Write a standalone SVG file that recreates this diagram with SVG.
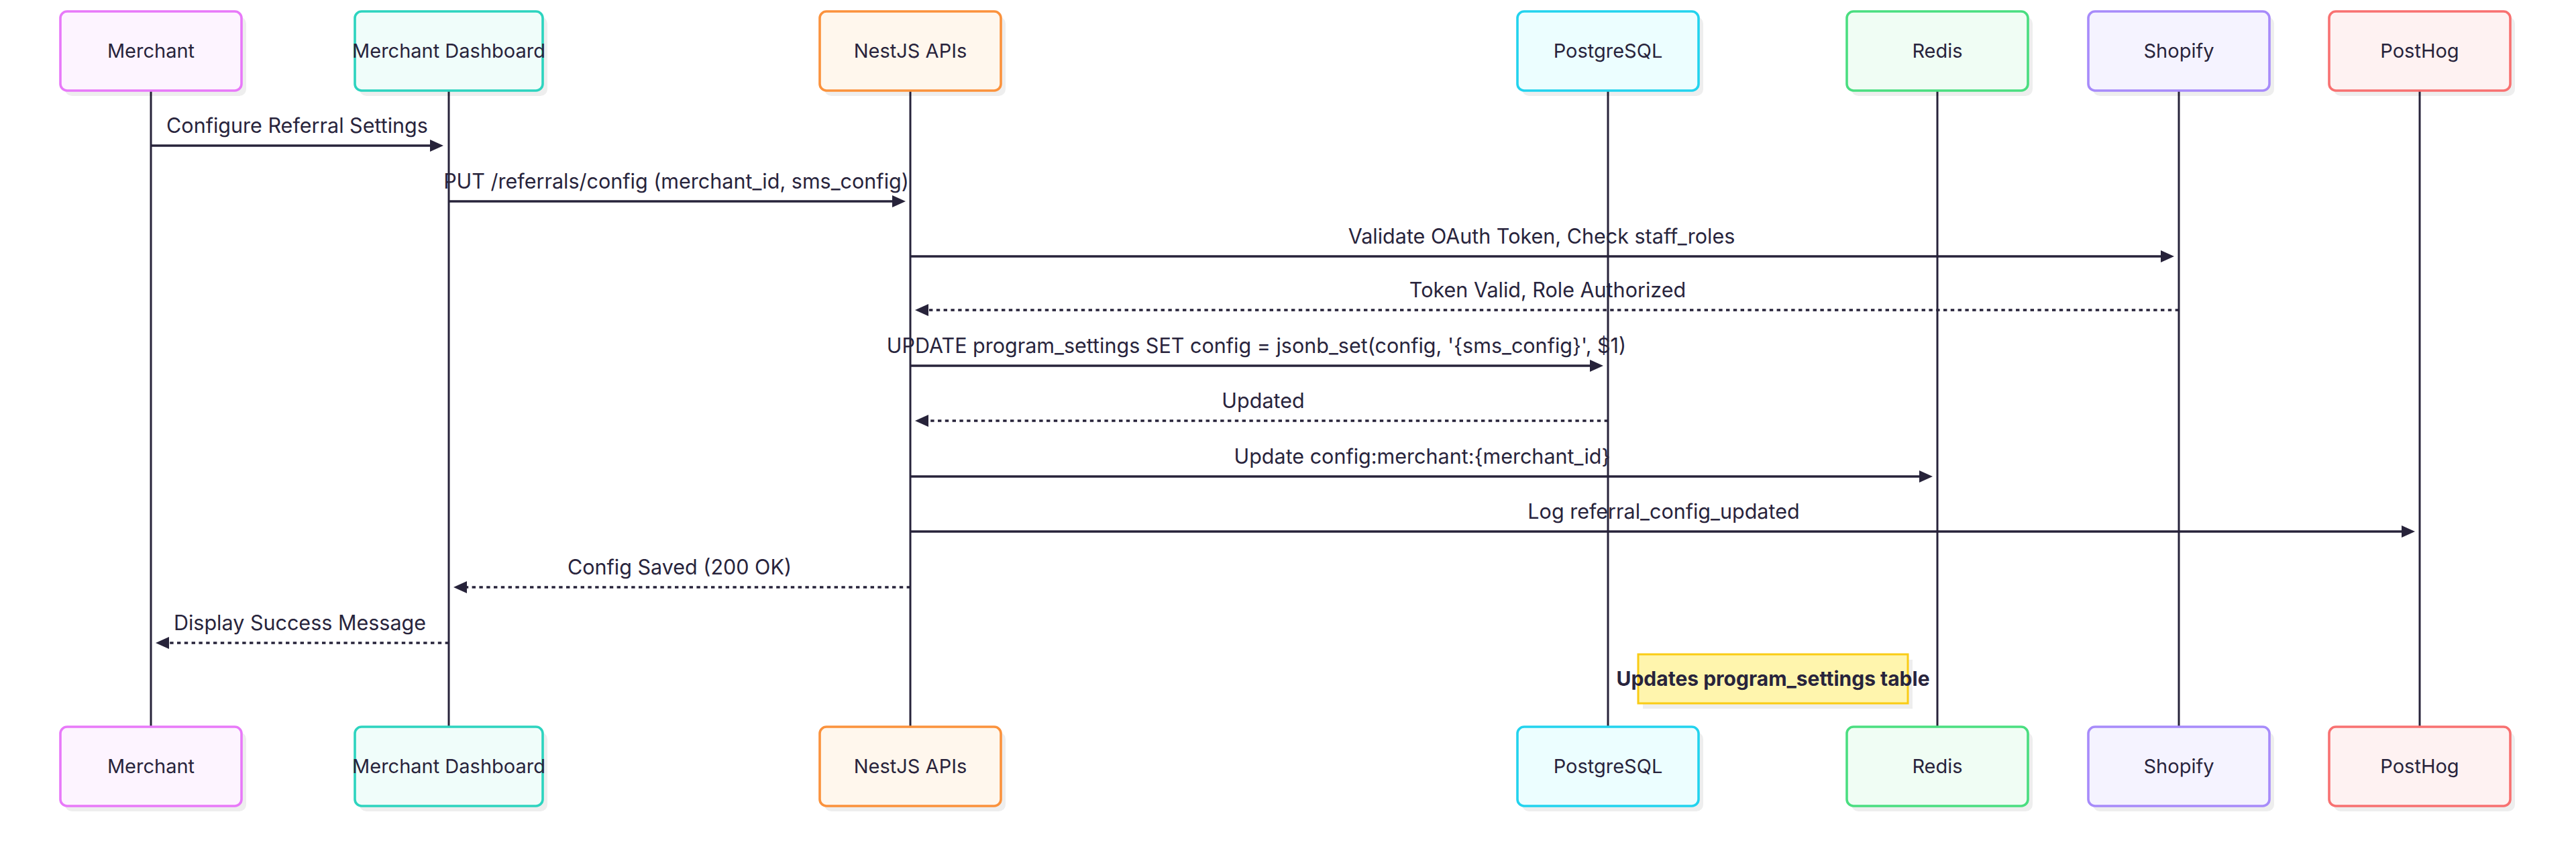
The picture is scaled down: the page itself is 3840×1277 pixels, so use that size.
<svg xmlns="http://www.w3.org/2000/svg" width="3840" height="1277" viewBox="0 0 3840 1277">
<defs>
<marker id="ah" viewBox="0 0 20 18" refX="12" refY="9" markerWidth="20" markerHeight="18" markerUnits="userSpaceOnUse" orient="auto">
<path d="M0,0 L20,9 L0,18 Z" fill="#27233a"/>
</marker>
</defs>
<style>
.bg{fill:#ffffff}
.sh{fill:#000000;fill-opacity:0.065}
.box{stroke-width:3.6}
.t{font-family:Inter,"Liberation Sans",sans-serif;font-size:29px;fill:#28243c;text-anchor:middle}
.m{font-family:Inter,"Liberation Sans",sans-serif;font-size:30.5px;fill:#28243c;text-anchor:middle}
.life{stroke:#27233a;stroke-width:3}
.msg{stroke:#27233a;stroke-width:3.6;fill:none;marker-end:url(#ah)}
.dash{stroke-dasharray:5.4 5.4}
.note{fill:#fff5ad;stroke:#facc15;stroke-width:3}
.nt{font-family:Inter,"Liberation Sans",sans-serif;font-size:30px;font-weight:bold;fill:#28243c;text-anchor:middle}
</style>
<rect class="bg" x="0" y="0" width="3840" height="1277"/>

<g id="lifelines">
<line class="life" x1="225" y1="135" x2="225" y2="1083"/>
<line class="life" x1="669" y1="135" x2="669" y2="1083"/>
<line class="life" x1="1357" y1="135" x2="1357" y2="1083"/>
<line class="life" x1="2397" y1="135" x2="2397" y2="1083"/>
<line class="life" x1="2888" y1="135" x2="2888" y2="1083"/>
<line class="life" x1="3248" y1="135" x2="3248" y2="1083"/>
<line class="life" x1="3607" y1="135" x2="3607" y2="1083"/>
</g>

<g id="merchant">
<rect class="sh" x="97" y="25" width="270" height="118" rx="10"/>
<rect class="box" x="90" y="17" width="270" height="118" rx="10" fill="#fdf4ff" stroke="#e879f9"/>
<text class="t" x="225" y="86">Merchant</text>
<rect class="sh" x="97" y="1091" width="270" height="118" rx="10"/>
<rect class="box" x="90" y="1083" width="270" height="118" rx="10" fill="#fdf4ff" stroke="#e879f9"/>
<text class="t" x="225" y="1152">Merchant</text>
</g>

<g id="dashboard">
<rect class="sh" x="536" y="25" width="280" height="118" rx="10"/>
<rect class="box" x="529" y="17" width="280" height="118" rx="10" fill="#f0fdfa" stroke="#2dd4bf"/>
<text class="t" x="669" y="86">Merchant Dashboard</text>
<rect class="sh" x="536" y="1091" width="280" height="118" rx="10"/>
<rect class="box" x="529" y="1083" width="280" height="118" rx="10" fill="#f0fdfa" stroke="#2dd4bf"/>
<text class="t" x="669" y="1152">Merchant Dashboard</text>
</g>

<g id="nestjs">
<rect class="sh" x="1229" y="25" width="270" height="118" rx="10"/>
<rect class="box" x="1222" y="17" width="270" height="118" rx="10" fill="#fff7ed" stroke="#fb923c"/>
<text class="t" x="1357" y="86">NestJS APIs</text>
<rect class="sh" x="1229" y="1091" width="270" height="118" rx="10"/>
<rect class="box" x="1222" y="1083" width="270" height="118" rx="10" fill="#fff7ed" stroke="#fb923c"/>
<text class="t" x="1357" y="1152">NestJS APIs</text>
</g>

<g id="postgresql">
<rect class="sh" x="2269" y="25" width="270" height="118" rx="10"/>
<rect class="box" x="2262" y="17" width="270" height="118" rx="10" fill="#ecfeff" stroke="#22d3ee"/>
<text class="t" x="2397" y="86">PostgreSQL</text>
<rect class="sh" x="2269" y="1091" width="270" height="118" rx="10"/>
<rect class="box" x="2262" y="1083" width="270" height="118" rx="10" fill="#ecfeff" stroke="#22d3ee"/>
<text class="t" x="2397" y="1152">PostgreSQL</text>
</g>

<g id="redis">
<rect class="sh" x="2760" y="25" width="270" height="118" rx="10"/>
<rect class="box" x="2753" y="17" width="270" height="118" rx="10" fill="#f0fdf4" stroke="#4ade80"/>
<text class="t" x="2888" y="86">Redis</text>
<rect class="sh" x="2760" y="1091" width="270" height="118" rx="10"/>
<rect class="box" x="2753" y="1083" width="270" height="118" rx="10" fill="#f0fdf4" stroke="#4ade80"/>
<text class="t" x="2888" y="1152">Redis</text>
</g>

<g id="shopify">
<rect class="sh" x="3120" y="25" width="270" height="118" rx="10"/>
<rect class="box" x="3113" y="17" width="270" height="118" rx="10" fill="#f5f3ff" stroke="#a78bfa"/>
<text class="t" x="3248" y="86">Shopify</text>
<rect class="sh" x="3120" y="1091" width="270" height="118" rx="10"/>
<rect class="box" x="3113" y="1083" width="270" height="118" rx="10" fill="#f5f3ff" stroke="#a78bfa"/>
<text class="t" x="3248" y="1152">Shopify</text>
</g>

<g id="posthog">
<rect class="sh" x="3479" y="25" width="270" height="118" rx="10"/>
<rect class="box" x="3472" y="17" width="270" height="118" rx="10" fill="#fef2f2" stroke="#f87171"/>
<text class="t" x="3607" y="86">PostHog</text>
<rect class="sh" x="3479" y="1091" width="270" height="118" rx="10"/>
<rect class="box" x="3472" y="1083" width="270" height="118" rx="10" fill="#fef2f2" stroke="#f87171"/>
<text class="t" x="3607" y="1152">PostHog</text>
</g>

<g id="connectors">
<line class="msg" x1="225" y1="217" x2="653" y2="217"/>
<text class="m" x="443" y="198">Configure Referral Settings</text>
<line class="msg" x1="669" y1="300" x2="1342" y2="300"/>
<text class="m" x="1008" y="281">PUT /referrals/config (merchant_id, sms_config)</text>
<line class="msg" x1="1357" y1="382" x2="3233" y2="382"/>
<text class="m" x="2298" y="363">Validate OAuth Token, Check staff_roles</text>
<line class="msg dash" x1="3248" y1="462" x2="1372" y2="462"/>
<text class="m" x="2307" y="443">Token Valid, Role Authorized</text>
<line class="msg" x1="1357" y1="545" x2="2382" y2="545"/>
<text class="m" x="1873" y="526">UPDATE program_settings SET config = jsonb_set(config, '{sms_config}', $1)</text>
<line class="msg dash" x1="2397" y1="627" x2="1372" y2="627"/>
<text class="m" x="1883" y="608">Updated</text>
<line class="msg" x1="1357" y1="710" x2="2873" y2="710"/>
<text class="m" x="2120" y="691">Update config:merchant:{merchant_id}</text>
<line class="msg" x1="1357" y1="792" x2="3592" y2="792"/>
<text class="m" x="2480" y="773">Log referral_config_updated</text>
<line class="msg dash" x1="1357" y1="875" x2="684" y2="875"/>
<text class="m" x="1013" y="856">Config Saved (200 OK)</text>
<line class="msg dash" x1="669" y1="958" x2="240" y2="958"/>
<text class="m" x="447" y="939">Display Success Message</text>
</g>

<g id="note">
<rect class="sh" x="2449" y="983" width="402" height="73"/>
<rect class="note" x="2442" y="975" width="402" height="73"/>
<text class="nt" x="2643" y="1022">Updates program_settings table</text>
</g>
</svg>
